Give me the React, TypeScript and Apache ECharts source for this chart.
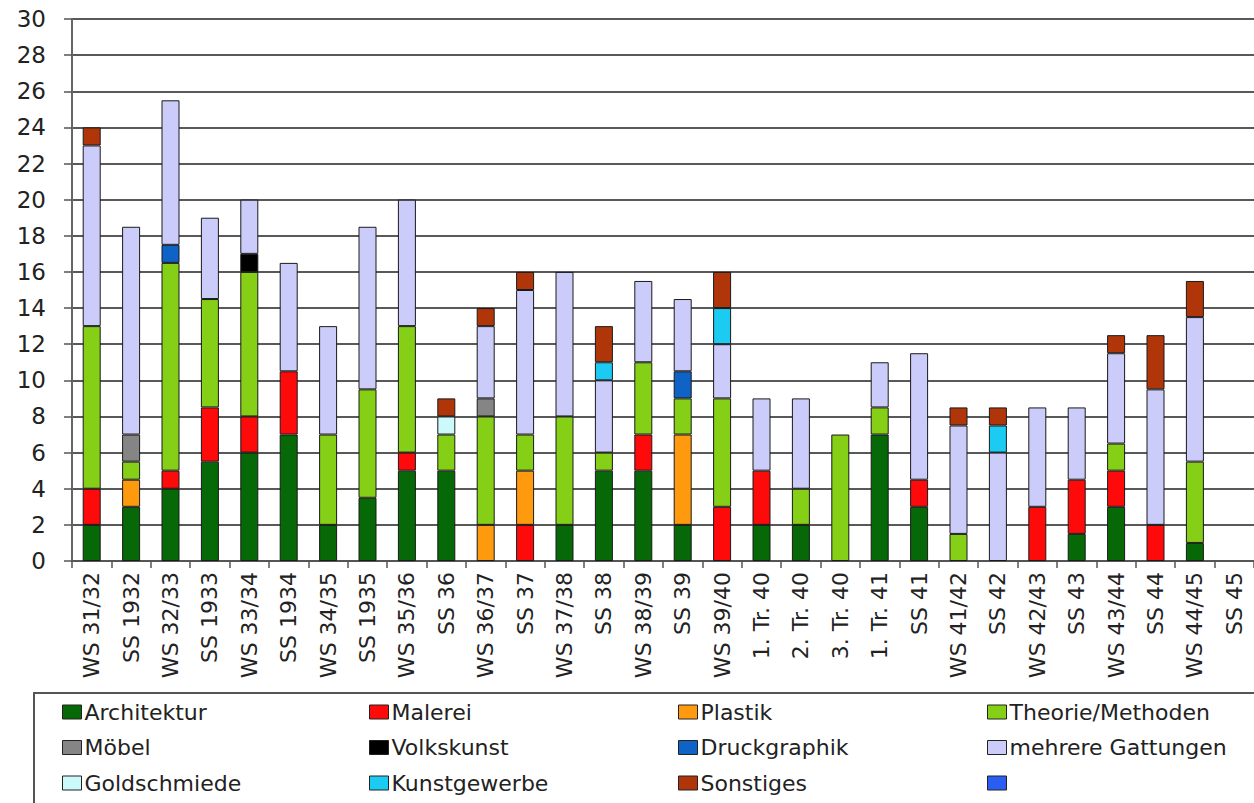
import React, { useEffect, useRef } from "react";
import * as echarts from "echarts";

const categories = ["WS 31/32","SS 1932","WS 32/33","SS 1933","WS 33/34","SS 1934","WS 34/35","SS 1935","WS 35/36","SS 36","WS 36/37","SS 37","WS 37/38","SS 38","WS 38/39","SS 39","WS 39/40","1. Tr. 40","2. Tr. 40","3. Tr. 40","1. Tr. 41","SS 41","WS 41/42","SS 42","WS 42/43","SS 43","WS 43/44","SS 44","WS 44/45","SS 45"];

const architektur = [2,3,4,5.5,6,7,2,3.5,5,5,0,0,2,5,5,2,0,2,2,0,7,3,0,0,0,1.5,3,0,1,0];
const malerei = [2,0,1,3,2,3.5,0,0,1,0,0,2,0,0,2,0,3,3,0,0,0,1.5,0,0,3,3,2,2,0,0];
const plastik = [0,1.5,0,0,0,0,0,0,0,0,2,3,0,0,0,5,0,0,0,0,0,0,0,0,0,0,0,0,0,0];
const theorie = [9,1,11.5,6,8,0,5,6,7,2,6,2,6,1,4,2,6,0,2,7,1.5,0,1.5,0,0,0,1.5,0,4.5,0];
const moebel = [0,1.5,0,0,0,0,0,0,0,0,1,0,0,0,0,0,0,0,0,0,0,0,0,0,0,0,0,0,0,0];
const volkskunst = [0,0,0,0,1,0,0,0,0,0,0,0,0,0,0,0,0,0,0,0,0,0,0,0,0,0,0,0,0,0];
const druckgraphik = [0,0,1,0,0,0,0,0,0,0,0,0,0,0,0,1.5,0,0,0,0,0,0,0,0,0,0,0,0,0,0];
const mehrere = [10,11.5,8,4.5,3,6,6,9,7,0,4,8,8,4,4.5,4,3,4,5,0,2.5,7,6,6,5.5,4,5,7.5,8,0];
const goldschmiede = [0,0,0,0,0,0,0,0,0,1,0,0,0,0,0,0,0,0,0,0,0,0,0,0,0,0,0,0,0,0];
const kunstgewerbe = [0,0,0,0,0,0,0,0,0,0,0,0,0,1,0,0,2,0,0,0,0,0,0,1.5,0,0,0,0,0,0];
const sonstiges = [1,0,0,0,0,0,0,0,0,1,1,1,0,2,0,0,2,0,0,0,0,0,1,1,0,0,1,3,2,0];
const unnamed: number[] = [];

const yTicks = [0,2,4,6,8,10,12,14,16,18,20,22,24,26,28,30];

const seriesDefs = [
  { name: "Architektur", data: architektur, color: "#066806" },
  { name: "Malerei", data: malerei, color: "#ff0a0a" },
  { name: "Plastik", data: plastik, color: "#ff9a0e" },
  { name: "Theorie/Methoden", data: theorie, color: "#86cf17" },
  { name: "Möbel", data: moebel, color: "#858585" },
  { name: "Volkskunst", data: volkskunst, color: "#000000" },
  { name: "Druckgraphik", data: druckgraphik, color: "#0f62c6" },
  { name: "mehrere Gattungen", data: mehrere, color: "#ccccfa" },
  { name: "Goldschmiede", data: goldschmiede, color: "#ccfafa" },
  { name: "Kunstgewerbe", data: kunstgewerbe, color: "#1ccbf2" },
  { name: "Sonstiges", data: sonstiges, color: "#b0360a" },
  { name: " ", data: unnamed, color: "#2a5ef2" },
];

const legendCols = [
  ["Architektur", "Möbel", "Goldschmiede"],
  ["Malerei", "Volkskunst", "Kunstgewerbe"],
  ["Plastik", "Druckgraphik", "Sonstiges"],
  ["Theorie/Methoden", "mehrere Gattungen", " "],
];
const legendLefts = [62, 369, 678, 987];

const FONT = "DejaVu Sans";

export default function App() {
  const ref = useRef<HTMLDivElement>(null);
  useEffect(() => {
    if (!ref.current) return;
    const chart = echarts.init(ref.current, null, { renderer: "svg" });
    chart.setOption({
      animation: false,
      backgroundColor: "#ffffff",
      textStyle: { fontFamily: FONT },
      grid: { left: 72, top: 19, width: 1185, height: 542 },
      xAxis: {
        type: "category",
        data: categories,
        boundaryGap: true,
        axisLine: { lineStyle: { color: "#555", width: 1.5 } },
        axisTick: { show: true, alignWithLabel: false, length: 7, lineStyle: { color: "#555", width: 1.5 } },
        axisLabel: { interval: 0, rotate: 90, fontSize: 22, color: "#222", margin: 11, fontFamily: FONT },
      },
      yAxis: {
        type: "value",
        min: yTicks[0],
        max: yTicks[yTicks.length - 1],
        interval: 2,
        axisLine: { show: true, lineStyle: { color: "#666", width: 2 } },
        axisTick: { show: true, length: 8, lineStyle: { color: "#555", width: 1.5 } },
        axisLabel: { fontSize: 23, color: "#222", margin: 26, fontFamily: FONT },
        splitLine: { show: true, lineStyle: { color: "#222", width: 1.5 } },
      },
      legend: legendCols.map((col, i) => ({
        orient: "vertical",
        left: legendLefts[i],
        top: 701,
        height: 200,
        padding: 0,
        data: col,
        icon: "rect",
        itemWidth: 19,
        itemHeight: 14,
        itemGap: 13.5,
        selectedMode: false,
        itemStyle: { borderColor: "#222", borderWidth: 1 },
        textStyle: { fontSize: 22, color: "#222", fontFamily: FONT, lineHeight: 22, padding: [0, 0, 0, -2] },
      })),
      graphic: [
        {
          type: "rect",
          shape: { x: 34, y: 693, width: 1240, height: 130 },
          style: { fill: "none", stroke: "#555", lineWidth: 2 },
          silent: true,
        },
      ],
      series: seriesDefs.map((s) => ({
        name: s.name,
        type: "bar",
        stack: "total",
        barWidth: 18,
        data: s.data.map((v) => (v ? v : null)),
        itemStyle: { color: s.color, borderColor: "#1a1a1a", borderWidth: 1 },
      })),
    });
    return () => chart.dispose();
  }, []);
  return (
    <div
      ref={ref}
      style={{ position: "fixed", left: 0, top: 0, width: 1254, height: 803 }}
    />
  );
}
